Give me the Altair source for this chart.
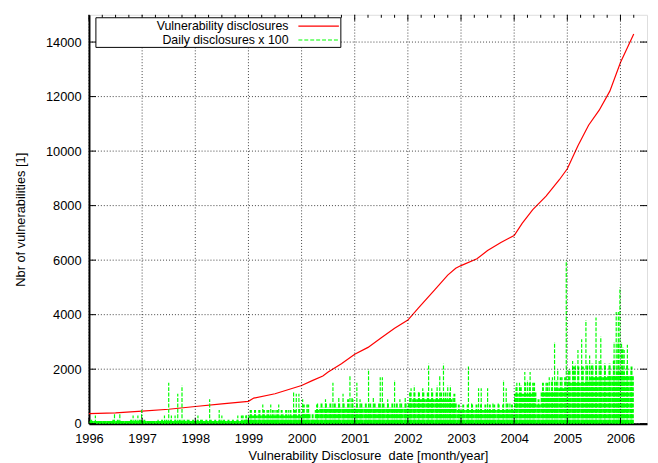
import altair as alt
import pandas as pd

# ---- cumulative disclosures (red line) ----
cum_year = [1996.0, 1996.5, 1997.0, 1997.5, 1998.0, 1998.5, 1998.9, 1999.0, 1999.1, 1999.5,
            2000.0, 2000.2, 2000.4, 2000.5, 2000.75, 2001.0, 2001.25, 2001.5, 2001.75, 2002.0,
            2002.2, 2002.5, 2002.75, 2002.9, 2003.0, 2003.3, 2003.5, 2003.75, 2003.9, 2004.0,
            2004.15, 2004.35, 2004.6, 2004.85, 2005.0, 2005.2, 2005.4, 2005.6, 2005.8, 2006.0,
            2006.25]
cum_value = [370, 400, 460, 530, 630, 730, 800, 820, 940, 1100,
             1400, 1580, 1750, 1900, 2200, 2550, 2800, 3150, 3500, 3800,
             4250, 4900, 5450, 5700, 5800, 6050, 6350, 6650, 6800, 6900,
             7350, 7850, 8350, 8950, 9350, 10200, 10950, 11500, 12200, 13250,
             14300]

# ---- daily disclosures (per day counts), monthly dense band from Jan 1996 ----
dense_base = [1, 1, 1, 1, 1, 1, 1, 1, 1, 1, 1, 1,
              1, 1, 1, 1, 1, 1, 1, 1, 1, 1, 1, 1,
              1, 1, 1, 1, 1, 1, 1, 1, 1, 1, 1, 2,
              3, 3, 3, 3, 3, 3, 3, 3, 3, 3, 3, 3,
              4, 4, 2, 5, 6, 6, 6, 6, 6, 6, 6, 6,
              6, 6, 6, 6, 6, 6, 6, 6, 6, 6, 6, 6,
              8, 9, 9, 9, 9, 9, 9, 9, 9, 9, 8, 5,
              5, 5, 5, 5, 5, 5, 5, 5, 5, 5, 5, 5,
              11, 11, 11, 11, 12, 7, 12, 12, 12, 13, 13, 13,
              15, 15, 15, 15, 16, 17, 17, 17, 17, 18, 18, 19,
              19, 18, 18]
dense_upper = [2, 1, 1, 1, 1, 2, 2, 1, 1, 2, 2, 2,
               2, 1, 1, 1, 2, 2, 2, 2, 2, 2, 2, 2,
               2, 2, 2, 2, 2, 2, 2, 2, 2, 2, 3, 3,
               5, 5, 5, 5, 5, 5, 5, 5, 5, 5, 5, 6,
               7, 7, 4, 7, 8, 8, 8, 8, 8, 8, 9, 9,
               8, 8, 8, 8, 8, 8, 8, 8, 8, 8, 8, 8,
               12, 12, 12, 12, 12, 12, 12, 12, 12, 12, 11, 7,
               7, 7, 7, 7, 7, 7, 7, 7, 7, 7, 8, 7,
               14, 14, 15, 15, 15, 9, 15, 15, 16, 16, 17, 17,
               20, 21, 21, 21, 22, 22, 22, 22, 22, 22, 23, 30,
               28, 22, 21]

# ---- individual high days ----
spike_year = [1996.12, 1996.48, 1996.58, 1996.83, 1996.92, 1996.99,
              1997.30, 1997.42, 1997.50, 1997.55, 1997.62, 1997.67, 1997.75, 1997.85,
              1998.05, 1998.10, 1998.27, 1998.45, 1998.50, 1998.80, 1998.90, 1998.96,
              1999.05, 1999.12, 1999.20, 1999.27, 1999.35, 1999.42, 1999.50, 1999.57,
              1999.65, 1999.75, 1999.85, 1999.90, 1999.95, 2000.02, 2000.10,
              2000.30, 2000.45, 2000.59, 2000.70, 2000.78, 2000.91, 2000.95,
              2001.04, 2001.10, 2001.26, 2001.35, 2001.48, 2001.52, 2001.62, 2001.75, 2001.85, 2001.95,
              2002.06, 2002.12, 2002.20, 2002.28, 2002.39, 2002.45, 2002.55, 2002.60, 2002.67,
              2002.75, 2002.80, 2002.85,
              2003.14, 2003.20, 2003.33, 2003.38, 2003.50, 2003.60, 2003.70, 2003.80, 2003.85, 2003.92,
              2004.05, 2004.10, 2004.20, 2004.25, 2004.30, 2004.35, 2004.60, 2004.66, 2004.72,
              2004.76, 2004.82, 2004.90, 2004.98, 2005.02,
              2005.10, 2005.15, 2005.20, 2005.27, 2005.35, 2005.42, 2005.48, 2005.54, 2005.60,
              2005.63, 2005.70, 2005.80, 2005.88, 2005.92, 2005.96, 2005.99, 2006.02, 2006.07,
              2006.13, 2006.20]
spike_count = [3, 4, 4, 3, 3, 5,
               2, 3, 15, 3, 3, 11, 14, 2,
               3, 2, 9, 5, 3, 3, 3, 3,
               5, 5, 5, 7, 5, 7, 5, 7,
               4, 5, 12, 11, 11, 9, 7,
               8, 9, 15, 10, 11, 18, 10,
               15, 9, 20, 10, 17, 17, 9, 16, 9, 10,
               13, 14, 12, 13, 22, 13, 14, 18, 22,
               14, 14, 10,
               21, 8, 13, 13, 13, 8, 8, 16, 13, 8,
               15, 15, 19, 16, 19, 15, 15, 17, 17,
               30, 20, 17, 60, 20,
               23, 22, 27, 31, 38, 25, 22, 39, 23,
               32, 22, 22, 30, 41, 41, 50, 30, 27,
               29, 20]

x_ticks = [1996, 1997, 1998, 1999, 2000, 2001, 2002, 2003, 2004, 2005, 2006]
y_ticks = [0, 2000, 4000, 6000, 8000, 10000, 12000, 14000]
legend_labels = ["Vulnerability disclosures", "Daily disclosures x 100"]
scale_factor = 100

RED = "#ff0000"
GREEN = "#00ff00"
FONT = "Liberation Sans"
W, H = 565, 414
DASH = [4, 1.5]

xs = alt.Scale(domain=[1996, 2006.5], nice=False, zero=False)
ys = alt.Scale(domain=[0, 15000], nice=False)

cum_df = pd.DataFrame({"year": cum_year, "value": cum_value})
month_df = pd.DataFrame({
    "year": [x_ticks[0] + (i + 0.5) / 12 for i in range(len(dense_base))],
    "base": [v * scale_factor for v in dense_base],
    "upper": [v * scale_factor for v in dense_upper],
})
spike_df = pd.DataFrame({"year": spike_year, "value": [v * scale_factor for v in spike_count]})
xt_df = pd.DataFrame({"t": x_ticks})
yt_df = pd.DataFrame({"t": y_ticks})
minor_df = pd.DataFrame({"t": [y + q / 4 for y in x_ticks for q in (1, 2, 3) if y + q / 4 < 2006.5]})

x_axis = alt.Axis(values=x_ticks, format="d", grid=False, ticks=False, tickSize=0,
                  labelFlush=False, labelOverlap=False, labelPadding=9,
                  labelFontSize=13, labelColor="black", labelFont=FONT,
                  domainColor="black", domainWidth=2,
                  title="Vulnerability Disclosure\u00a0 date [month/year]",
                  titleFontSize=13, titleFontWeight="normal", titleColor="black", titleFont=FONT,
                  titleX=W / 2, titleY=36, titleBaseline="alphabetic")
y_axis = alt.Axis(values=y_ticks, format="d", grid=False, ticks=False, tickSize=0,
                  labelOverlap=False, labelPadding=8,
                  labelFontSize=13, labelColor="black", labelFont=FONT,
                  domainColor="black", domainWidth=2,
                  title="Nbr of vulnerabilities [1]",
                  titleFontSize=13, titleFontWeight="normal", titleColor="black", titleFont=FONT,
                  titleX=-65, titleY=H / 2, titleAngle=-90, titleAlign="center",
                  titleBaseline="alphabetic")

X = lambda f: alt.X(f, scale=xs, axis=x_axis)
Y = lambda f: alt.Y(f, scale=ys, axis=y_axis)

# red cumulative line
red_line = alt.Chart(cum_df).mark_line(color=RED, strokeWidth=1.2).encode(
    x=X("year:Q"), y=Y("value:Q"))

# green daily impulses (dashed, starting at zero)
base_rules = alt.Chart(month_df).transform_calculate(zero="0").mark_rule(
    color=GREEN, strokeWidth=4.7, strokeDash=DASH).encode(
    x=X("year:Q"), y=Y("zero:Q"), y2="base:Q")
upper_rules = alt.Chart(month_df).transform_calculate(zero="0").mark_rule(
    color=GREEN, strokeWidth=2, strokeDash=DASH).encode(
    x=X("year:Q"), y=Y("zero:Q"), y2="upper:Q")
spike_rules = alt.Chart(spike_df).transform_calculate(zero="0").mark_rule(
    color=GREEN, strokeWidth=1.2, strokeDash=DASH).encode(
    x=X("year:Q"), y=Y("zero:Q"), y2="value:Q")

# dotted grid on top of data
grid_style = dict(color="black", strokeWidth=1, strokeDash=[1, 2], opacity=0.75)
xgrid = alt.Chart(xt_df).mark_rule(**grid_style).encode(
    x=X("t:Q"), y=alt.value(0), y2=alt.value(H))
ygrid = alt.Chart(yt_df).mark_rule(**grid_style).encode(
    y=Y("t:Q"), x=alt.value(0), x2=alt.value(W))

# inward ticks
tick_style = dict(color="black", strokeWidth=1)
top_major = alt.Chart(xt_df).mark_rule(**tick_style).encode(
    x=X("t:Q"), y=alt.value(0), y2=alt.value(6))
bottom_major = alt.Chart(xt_df).mark_rule(**tick_style).encode(
    x=X("t:Q"), y=alt.value(H), y2=alt.value(H - 6))
top_minor = alt.Chart(minor_df).mark_rule(**tick_style).encode(
    x=X("t:Q"), y=alt.value(0), y2=alt.value(3))
left_ticks = alt.Chart(yt_df).mark_rule(**tick_style).encode(
    y=Y("t:Q"), x=alt.value(0), x2=alt.value(7))
right_ticks = alt.Chart(yt_df).mark_rule(**tick_style).encode(
    y=Y("t:Q"), x=alt.value(W), x2=alt.value(W - 7))

# gnuplot-style key box
key_df = pd.DataFrame({"k": [0]})
key_box = alt.Chart(key_df).mark_rect(fill="white", stroke="black", strokeWidth=1).encode(
    x=alt.value(7), x2=alt.value(255), y=alt.value(3), y2=alt.value(33))
key_text1 = alt.Chart(pd.DataFrame({"label": [legend_labels[0]]})).mark_text(
    align="right", baseline="alphabetic", font=FONT, fontSize=12.5, color="black").encode(
    text="label:N", x=alt.value(202), y=alt.value(15.5))
key_text2 = alt.Chart(pd.DataFrame({"label": [legend_labels[1]]})).mark_text(
    align="right", baseline="alphabetic", font=FONT, fontSize=12.5, color="black").encode(
    text="label:N", x=alt.value(202), y=alt.value(30))
key_line1 = alt.Chart(key_df).mark_rule(color=RED, strokeWidth=1.2).encode(
    x=alt.value(212), x2=alt.value(253), y=alt.value(11.5))
key_line2 = alt.Chart(key_df).mark_rule(color=GREEN, strokeWidth=1.2, strokeDash=[4, 2]).encode(
    x=alt.value(212), x2=alt.value(253), y=alt.value(25.5))

chart = alt.layer(
    red_line, base_rules, upper_rules, spike_rules,
    xgrid, ygrid, top_major, bottom_major, top_minor, left_ticks, right_ticks,
    key_box, key_text1, key_text2, key_line1, key_line2,
).properties(
    width=W, height=H, autosize="none",
    padding={"left": 82, "top": 4, "right": 3, "bottom": 45},
    background="white",
).configure_view(stroke="black", strokeWidth=1).configure(font=FONT)

chart.save("out.html", embed_options={"renderer": "svg", "actions": False})
